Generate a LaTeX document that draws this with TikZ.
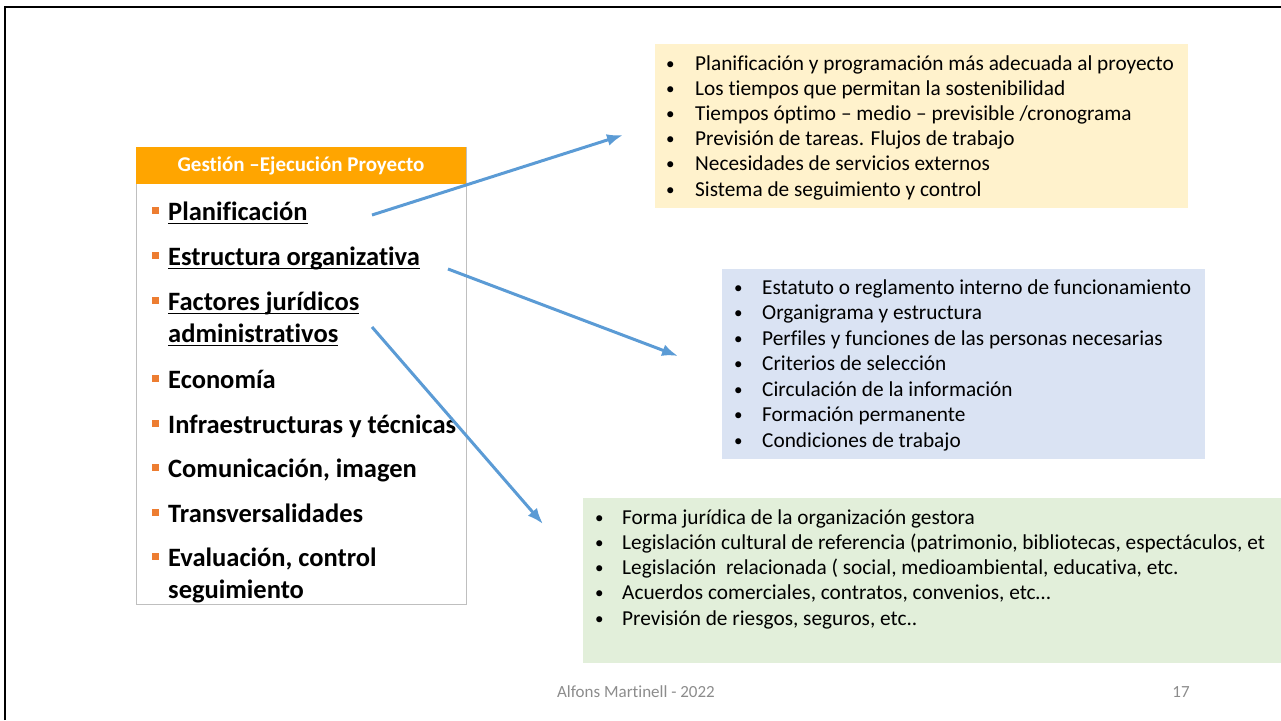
\documentclass[tikz,border=0pt]{standalone}
\usepackage{fontspec}
\setmainfont[Ligatures=NoCommon]{Carlito}
\usepackage{tikz}
\usetikzlibrary{arrows.meta}

\definecolor{naranja}{HTML}{FFA500}
\definecolor{vineta}{HTML}{ED7D31}
\definecolor{azulflecha}{HTML}{5B9BD5}
\definecolor{fondoamarillo}{HTML}{FFF2CC}
\definecolor{fondoazul}{HTML}{DAE3F3}
\definecolor{fondoverde}{HTML}{E2EFDA}
\definecolor{bordegris}{HTML}{BFBFBF}
\definecolor{textopie}{HTML}{8C8C8C}

% subrayado a altura fija
\newcommand{\subrayado}[1]{\setbox0\hbox{#1}\rlap{\rule[-4pt]{\wd0}{1.4pt}}\box0}
\newcommand{\bolita}{\raisebox{1pt}{\scalebox{0.8}{•}}}

\tikzset{
  caja/.style={anchor=north west, inner sep=0pt, outer sep=0pt},
  tema/.style={anchor=base west, inner sep=0pt, font=\fontsize{26.5}{30}\selectfont\bfseries},
  punto/.style={fill=vineta, minimum size=7pt, inner sep=0pt},
  linea/.style={anchor=base west, inner sep=0pt, font=\fontsize{21.3}{25}\selectfont},
  flecha/.style={->, line width=3pt, color=azulflecha},
  pie/.style={inner sep=0pt, font=\fontsize{17}{20}\selectfont, text=textopie}
}

\begin{document}
\begin{tikzpicture}[x=1pt, y=-1pt, >={Latex[length=16pt,width=12pt]}]
  \useasboundingbox (0,0) rectangle (1281,720);

  % Marco de la diapositiva
  \draw[line width=2.5pt] (5,720) -- (5,7) -- (1281,7);

  % Caja izquierda con la cabecera naranja
  \node[caja, draw=bordegris, line width=1pt, minimum width=330pt, minimum height=457pt] (gestion) at (136,147) {};
  \node[caja, fill=naranja, minimum width=330pt, minimum height=37pt] (cabecera) at (136,147) {};
  \node[inner sep=0pt, text=white, font=\fontsize{21}{24}\selectfont\bfseries] (titulo) at (cabecera.center) {Gestión –Ejecución Proyecto};

  % Temas de la gestion
  \node[tema] (planif) at (168,220) {\subrayado{Planificación}};
  \node[tema] (estruc) at (168,265) {\subrayado{Estructura organizativa}};
  \node[tema] (factor) at (168,310) {\subrayado{Factores jurídicos}};
  \node[tema] (admin) at (168,342) {\subrayado{administrativos}};
  \node[tema] (econ) at (168,388) {Economía};
  \node[tema] (infra) at (168,433) {Infraestructuras y técnicas};
  \node[tema] (comun) at (168,477) {Comunicación, imagen};
  \node[tema] (trans) at (168,522) {Transversalidades};
  \node[tema] (evalu) at (168,566) {Evaluación, control};
  \node[tema] (segui) at (168,598) {seguimiento};

  % Vinetas cuadradas naranjas
  \foreach \y/\n in {220/1, 265/2, 310/3, 388/4, 433/5, 477/6, 522/7, 566/8}
    \node[punto] (vineta-\n) at (155,\y-10) {};

  % Caja de planificacion (amarilla)
  \node[caja, fill=fondoamarillo, minimum width=533pt, minimum height=164pt] (cajaplan) at (655,44) {};
  \foreach \texto [count=\i] in {{Planificación y programación más adecuada al proyecto},
      {Los tiempos que permitan la sostenibilidad},
      {Tiempos óptimo – medio – previsible /cronograma},
      {Previsión de tareas. Flujos de trabajo},
      {Necesidades de servicios externos},
      {Sistema de seguimiento y control}}
    \node[linea] (plan-\i) at (666,{70+25.2*(\i-1)}) {\makebox[29pt][l]{\bolita}\texto};

  % Caja de estructura (azul)
  \node[caja, fill=fondoazul, minimum width=483pt, minimum height=190pt] (cajaestr) at (722,269) {};
  \foreach \texto [count=\i] in {{Estatuto o reglamento interno de funcionamiento},
      {Organigrama y estructura},
      {Perfiles y funciones de las personas necesarias},
      {Criterios de selección},
      {Circulación de la información},
      {Formación permanente},
      {Condiciones de trabajo}}
    \node[linea] (estr-\i) at (734,{294+25.5*(\i-1)}) {\makebox[28pt][l]{\bolita}\texto};

  % Caja juridica (verde)
  \node[caja, fill=fondoverde, minimum width=698pt, minimum height=165pt] (cajajur) at (583,498) {};
  \foreach \texto [count=\i] in {{Forma jurídica de la organización gestora},
      {Legislación cultural de referencia (patrimonio, bibliotecas, espectáculos, et},
      {Legislación\ \ relacionada ( social, medioambiental, educativa, etc.},
      {Acuerdos comerciales, contratos, convenios, etc…},
      {Previsión de riesgos, seguros, etc..}}
    \node[linea] (jur-\i) at (595,{524+25.25*(\i-1)}) {\makebox[27pt][l]{\bolita}\texto};

  % Flechas desde los temas hacia las cajas
  \coordinate (ini-plan) at (372,215);
  \coordinate (fin-plan) at (623,135);
  \coordinate (ini-estr) at (448,269);
  \coordinate (fin-estr) at (678,356);
  \coordinate (ini-jur) at (372,327);
  \coordinate (fin-jur) at (543,524);
  \draw[flecha] (ini-plan) -- (fin-plan);
  \draw[flecha] (ini-estr) -- (fin-estr);
  \draw[flecha] (ini-jur) -- (fin-jur);

  % Pie de pagina
  \node[pie] (autor) at (636,692) {Alfons Martinell - 2022};
  \node[pie] (pagina) at (1181,692) {17};
\end{tikzpicture}
\end{document}
